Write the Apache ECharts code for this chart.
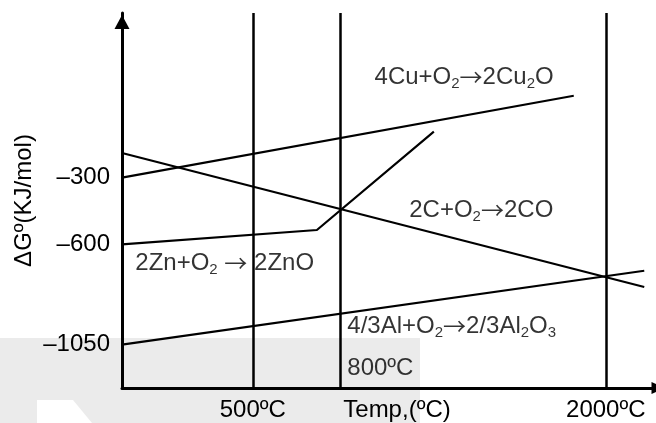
<!DOCTYPE html>
<html><head><meta charset="utf-8">
<script src="https://cdn.jsdelivr.net/npm/echarts@6/dist/echarts.min.js"></script>
<style>html,body{margin:0;padding:0;background:#fff}#c{width:656px;height:423px}</style>
</head><body><div id="c"></div>
<script>
// Schematic x positions (axis units 0..100) of the temperature guide lines
const tempGuideX = [24.5, 40.8, 90.6];
const xTickValues = [24.5, 90.6];
const xTickLabels = ['500ºC', '2000ºC'];
const yTickValues = [-300, -600, -1050];
const yTickLabels = ['–300', '–600', '–1050'];
// Reaction lines (x in schematic units, y in kJ/mol)
const cuX = [0, 84.6], cuY = [-300, 68];
const cX = [0, 97.8], cY = [-189, -791];
const znX = [0, 36.5, 58.4], znY = [-600, -535, -93];
const alX = [0, 97.8], alY = [-1050, -718];
const annoTexts = [
  '{n|4Cu+O}{s|2}{a|→}{n|2Cu}{s|2}{n|O}',
  '{n|2C+O}{s|2}{a|→}{n|2CO}',
  '{n|2Zn+O}{s|2}{n| }{a|→}{n| 2ZnO}',
  '{n|4/3Al+O}{s|2}{a|→}{n|2/3Al}{s|2}{n|O}{s|3}',
  '{n|800ºC}'
];

const FONT = 'Liberation Sans, Arial, sans-serif';
const zip = (xs, ys) => xs.map((x, i) => [x, ys[i]]);
const lineSeries = (xs, ys) => ({
  type: 'line', data: zip(xs, ys), symbol: 'none', silent: true,
  lineStyle: { color: '#000', width: 2.2 }, z: 3
});
const nearestLabel = (vals, labels, v) => {
  let bi = 0;
  vals.forEach((x, i) => { if (Math.abs(x - v) < Math.abs(vals[bi] - v)) bi = i; });
  return labels[bi];
};

const chart = echarts.init(document.getElementById('c'), null, { renderer: 'canvas' });
chart.setOption({
  animation: false,
  backgroundColor: '#fff',
  graphic: [
    { type: 'rect', z: -10, shape: { x: 0, y: 338, width: 420, height: 85 }, style: { fill: '#ebebeb' } },
    { type: 'polygon', z: -9, shape: { points: [[37, 400], [73, 400], [92, 423], [37, 423]] }, style: { fill: '#ffffff' } }
  ],
  grid: { left: 122, right: 0, top: 13, bottom: 35, containLabel: false, outerBoundsMode: 'none' },
  xAxis: {
    type: 'value', min: 0, max: 100,
    axisLine: { show: true, onZero: false, lineStyle: { color: '#000', width: 3 },
      symbol: ['none', 'triangle'], symbolSize: [12, 13], symbolOffset: [0, 2] },
    axisTick: { show: false }, splitLine: { show: false },
    axisLabel: { customValues: xTickValues, formatter: v => nearestLabel(xTickValues, xTickLabels, v),
      color: '#000', fontSize: 24, fontFamily: FONT, margin: 10 },
    name: 'Temp,(ºC)', nameLocation: 'middle', nameGap: 10, nameMoveOverlap: false,
    nameTextStyle: { color: '#000', fontSize: 24, fontFamily: FONT, padding: [0, 0, 0, 16] }
  },
  yAxis: {
    type: 'value', min: -1245, max: 440,
    axisLine: { show: true, onZero: false, lineStyle: { color: '#000', width: 3 },
      symbol: ['none', 'triangle'], symbolSize: [15, 14], symbolOffset: [0, -9] },
    axisTick: { show: false }, splitLine: { show: false },
    axisLabel: { customValues: yTickValues, formatter: v => nearestLabel(yTickValues, yTickLabels, v),
      color: '#000', fontSize: 24, fontFamily: FONT, margin: 12 },
    name: 'ΔGº(KJ/mol)', nameLocation: 'middle', nameGap: 86, nameRotate: 90, nameMoveOverlap: false,
    nameTextStyle: { color: '#000', fontSize: 24, fontFamily: FONT }
  },
  series: [
    lineSeries(cuX, cuY),
    lineSeries(cX, cY),
    lineSeries(znX, znY),
    lineSeries(alX, alY),
    {
      type: 'line', data: [], silent: true,
      markLine: {
        silent: true, symbol: ['none', 'none'], label: { show: false },
        lineStyle: { color: '#000', width: 2.5, type: 'solid' },
        data: tempGuideX.map(x => ({ xAxis: x }))
      }
    },
    {
      type: 'scatter', silent: true, symbolSize: 1, itemStyle: { color: 'rgba(0,0,0,0)' }, z: 5,
      data: [[47.2, 152, 0], [53.7, -445, 1], [2.4, -686, 2], [42.1, -966, 3], [42.1, -1157, 4]],
      label: {
        show: true, position: 'right', distance: 0,
        formatter: p => annoTexts[p.data[2]],
        rich: {
          n: { fontSize: 24, fontFamily: FONT, color: '#000', lineHeight: 28 },
          a: { fontSize: 23, fontFamily: 'Noto Sans CJK SC', color: '#000', lineHeight: 28 },
          s: { fontSize: 15, fontFamily: FONT, color: '#000', lineHeight: 25, verticalAlign: 'bottom' }
        }
      }
    }
  ]
});
</script></body></html>
